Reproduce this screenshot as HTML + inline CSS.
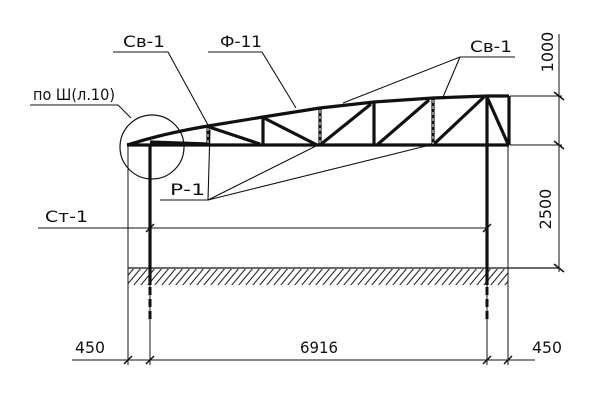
<!DOCTYPE html>
<html><head><meta charset="utf-8"><style>
html,body{margin:0;padding:0;background:#fff;}
svg{display:block}
text{font-family:"DejaVu Sans","Liberation Sans",sans-serif;fill:#111;font-size:16px}
</style></head><body>
<svg width="600" height="403" viewBox="0 0 600 403" xmlns="http://www.w3.org/2000/svg">
<defs>
<pattern id="h" width="7" height="20" patternUnits="userSpaceOnUse" patternTransform="skewX(-40)">
<line x1="2" y1="0" x2="2" y2="20" stroke="#111" stroke-width="1.3"/>
</pattern>
</defs>
<g stroke="#111" fill="none">
<rect x="128" y="269" width="380" height="16" fill="url(#h)" stroke="none"/>
<line x1="128" y1="268" x2="559" y2="268" stroke-width="1.3"/>
<line x1="128" y1="145" x2="128" y2="365" stroke-width="1"/>
<line x1="508" y1="145" x2="508" y2="365" stroke-width="1"/>
<line x1="510" y1="96" x2="562" y2="96" stroke-width="1"/>
<line x1="510" y1="145" x2="562" y2="145" stroke-width="1"/>
<line x1="559" y1="34" x2="559" y2="272" stroke-width="1"/>
<g stroke-width="1.5">
<line x1="554" y1="92" x2="564" y2="100"/>
<line x1="554" y1="141" x2="564" y2="149"/>
<line x1="554" y1="264" x2="564" y2="272"/>
</g>
<line x1="72" y1="360" x2="535" y2="360" stroke-width="1"/>
<g stroke-width="1.5">
<line x1="124" y1="364" x2="132" y2="356"/>
<line x1="146" y1="364" x2="154" y2="356"/>
<line x1="483" y1="364" x2="491" y2="356"/>
<line x1="504" y1="364" x2="512" y2="356"/>
</g>
<line x1="150" y1="145" x2="150" y2="365" stroke-width="1"/>
<line x1="487" y1="145" x2="487" y2="365" stroke-width="1"/>
<line x1="150" y1="145" x2="150" y2="285" stroke-width="3.2"/>
<line x1="487" y1="145" x2="487" y2="285" stroke-width="3.2"/>
<line x1="150" y1="287" x2="150" y2="323" stroke-width="3" stroke-dasharray="8,4"/>
<line x1="487" y1="287" x2="487" y2="323" stroke-width="3" stroke-dasharray="8,4"/>
<g stroke-width="3.2" stroke-linejoin="round">
<line x1="127" y1="145" x2="509" y2="145"/>
<path d="M127,145 Q165,133 208,126 L263,117 L320,108 L374,102 L433,98 L487,96 L509,96"/>
<line x1="509" y1="96" x2="509" y2="145"/>
<line x1="208" y1="126" x2="208" y2="145"/>
<line x1="263" y1="117" x2="263" y2="145"/>
<line x1="320" y1="108" x2="320" y2="145"/>
<line x1="374" y1="102" x2="374" y2="145"/>
<line x1="433" y1="98" x2="433" y2="145"/>
<line x1="487" y1="96" x2="487" y2="145"/>
<line x1="209" y1="127" x2="260" y2="144"/>
<line x1="264" y1="118" x2="317" y2="145"/>
<line x1="320" y1="145" x2="371" y2="104"/>
<line x1="377" y1="145" x2="429" y2="100"/>
<line x1="433" y1="145" x2="484" y2="97"/>
<line x1="487" y1="97" x2="508" y2="144"/>
<line x1="150" y1="142" x2="208" y2="144"/>
</g>
<g stroke="#fff" stroke-width="1" stroke-dasharray="3,3">
<line x1="208" y1="128" x2="208" y2="144"/><line x1="320" y1="110" x2="320" y2="144"/><line x1="433" y1="100" x2="433" y2="144"/>
</g>
<circle cx="152" cy="147" r="32" stroke-width="1.2"/>
<g stroke-width="1.1">
<polyline points="30,105 118,105 131,118"/>
<polyline points="113,52 168,52 208,125"/>
<polyline points="208,52 262,52 296,108"/>
<polyline points="515,57 460,57 343,103"/>
<line x1="460" y1="57" x2="443" y2="97"/>
<polyline points="160,200 208,200 210,130"/>
<line x1="208" y1="200" x2="316" y2="146"/>
<line x1="208" y1="200" x2="426" y2="146"/>
<line x1="38" y1="228" x2="487" y2="228"/>
<g stroke-width="1.5">
<line x1="146" y1="232" x2="154" y2="224"/>
<line x1="483" y1="232" x2="491" y2="224"/>
</g>
</g>
</g>
<text x="33" y="100" textLength="82" lengthAdjust="spacingAndGlyphs">по Ш(л.10)</text>
<text x="123" y="47" textLength="42" lengthAdjust="spacingAndGlyphs">Св-1</text>
<text x="220" y="47" textLength="42" lengthAdjust="spacingAndGlyphs">Ф-11</text>
<text x="470" y="52" textLength="42" lengthAdjust="spacingAndGlyphs">Св-1</text>
<text x="170" y="195" textLength="35" lengthAdjust="spacingAndGlyphs">Р-1</text>
<text x="45" y="222" textLength="43" lengthAdjust="spacingAndGlyphs">Ст-1</text>
<text x="75" y="353" textLength="30" lengthAdjust="spacingAndGlyphs">450</text>
<text x="300" y="353" textLength="38" lengthAdjust="spacingAndGlyphs">6916</text>
<text x="532" y="353" textLength="30" lengthAdjust="spacingAndGlyphs">450</text>
<text transform="translate(553,52) rotate(-90)" text-anchor="middle">1000</text>
<text transform="translate(551,209) rotate(-90)" text-anchor="middle">2500</text>
</svg>
</body></html>
